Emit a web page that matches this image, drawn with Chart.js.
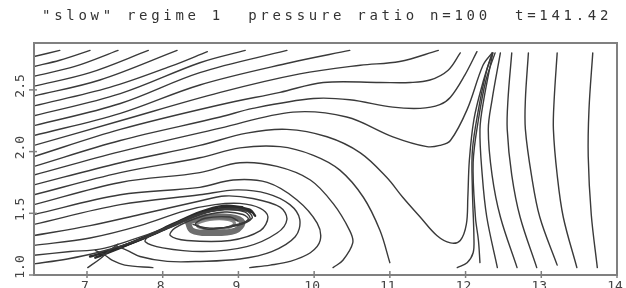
<!DOCTYPE html>
<html>
<head>
<meta charset="utf-8">
<script src="https://cdn.jsdelivr.net/npm/chart.js@4"></script>
<style>
  html, body { margin: 0; padding: 0; background: #fff; }
  canvas { display: block; }
</style>
</head>
<body>
<canvas id="flow" width="626" height="288"></canvas>
<script>
// title and axes
var titleText = '"slow" regime 1  pressure ratio n=100  t=141.42';
var xTicks = [7, 8, 9, 10, 11, 12, 13, 14];
var xTickLabels = ['7', '8', '9', '10', '11', '12', '13', '14'];
var yTicks = [1.0, 1.5, 2.0, 2.5];
var yTickLabels = ['1.0', '1.5', '2.0', '2.5'];

// streamlines, [x, y] pairs
// upper-left family, running out through the top
var upper0 = [[6.30,2.77],[6.64,2.82]];
var upper1 = [[6.30,2.69],[6.64,2.74],[7.04,2.82]];
var upper2 = [[6.30,2.61],[6.84,2.69],[7.41,2.82]];
var upper3 = [[6.30,2.53],[7.04,2.64],[7.81,2.82]];
var upper4 = [[6.30,2.45],[7.17,2.58],[8.19,2.82]];
var upper5 = [[6.30,2.37],[7.30,2.52],[8.10,2.69],[8.59,2.81]];
var upper6 = [[6.30,2.29],[7.44,2.47],[8.49,2.72],[9.09,2.82]];
var upper7 = [[6.30,2.21],[7.44,2.39],[8.49,2.64],[9.64,2.82]];
var upper8 = [[6.30,2.13],[7.44,2.31],[8.49,2.54],[9.68,2.72],[10.47,2.82]];
// lines that bend up into the cusp near x=12.3
var lineD = [[6.30,2.05],[7.44,2.25],[8.76,2.48],[9.81,2.63],[10.61,2.70],[11.13,2.73],[11.64,2.82]];
var lineE = [[6.30,1.96],[7.44,2.18],[8.76,2.38],[9.55,2.48],[10.12,2.56],[10.87,2.56],[11.27,2.56],[11.53,2.58],[11.77,2.66],[11.93,2.80]];
var lineF = [[6.30,1.88],[7.44,2.09],[8.76,2.28],[9.19,2.35],[9.99,2.43],[10.47,2.42],[11.04,2.36],[11.40,2.35],[11.66,2.38],[11.80,2.44],[11.99,2.62],[12.15,2.81]];
var lineG = [[6.30,1.81],[7.44,2.00],[8.76,2.19],[9.72,2.32],[10.43,2.28],[11.04,2.12],[11.49,2.04],[11.66,2.05],[11.80,2.09],[12.02,2.34],[12.23,2.70],[12.35,2.80]];
var lineU = [[6.30,1.73],[7.44,1.91],[8.49,2.05],[9.11,2.15],[9.64,2.18],[10.17,2.12],[10.61,1.99],[10.96,1.79],[11.17,1.63],[11.40,1.47],[11.62,1.32],[11.80,1.26],[11.93,1.28],[12.01,1.41],[12.03,1.63],[12.05,1.93],[12.11,2.26],[12.22,2.54],[12.35,2.80]];
// lines curling round the vortex and hitting the floor
var curl14 = [[6.30,1.65],[7.44,1.83],[8.49,1.95],[9.02,2.03],[9.55,2.04],[9.99,1.97],[10.34,1.85],[10.65,1.63],[10.87,1.36],[11.00,1.10]];
var curl15 = [[6.30,1.57],[7.44,1.75],[8.49,1.83],[9.02,1.91],[9.51,1.88],[9.95,1.77],[10.25,1.58],[10.47,1.36],[10.51,1.26],[10.38,1.12],[10.25,1.06]];
var curl16 = [[6.30,1.49],[7.44,1.65],[8.49,1.71],[8.93,1.77],[9.38,1.75],[9.77,1.61],[10.04,1.42],[10.08,1.28],[9.95,1.18],[9.68,1.11],[9.42,1.08],[9.15,1.06]];
var curl17 = [[6.30,1.41],[7.44,1.57],[8.49,1.65],[8.98,1.69],[9.38,1.66],[9.68,1.57],[9.81,1.45],[9.75,1.31],[9.44,1.19],[9.02,1.13],[8.49,1.11],[8.06,1.11],[7.70,1.15],[7.53,1.20],[7.37,1.24]];
// lines spiralling into the vortex core
var spiral18 = [[6.30,1.32],[7.04,1.40],[7.70,1.49],[8.49,1.60],[8.82,1.64],[9.19,1.62],[9.55,1.55],[9.64,1.45],[9.51,1.34],[9.11,1.23],[8.53,1.19],[8.00,1.22],[7.77,1.27],[7.83,1.32],[8.16,1.40],[8.49,1.49],[8.82,1.53],[9.09,1.52]];
var spiral19 = [[6.30,1.24],[7.04,1.30],[7.70,1.40],[8.29,1.52],[8.69,1.57],[9.02,1.58],[9.29,1.54],[9.39,1.47],[9.29,1.36],[8.89,1.28],[8.32,1.28],[8.10,1.32],[8.16,1.38],[8.49,1.47],[8.82,1.51],[9.06,1.49],[9.13,1.45],[8.96,1.40],[8.62,1.37]];
var spiral20 = [[6.30,1.16],[6.78,1.19],[7.17,1.21],[7.57,1.28],[8.03,1.38],[8.49,1.50],[8.86,1.54],[9.11,1.52],[9.18,1.46],[8.98,1.40],[8.62,1.38],[8.43,1.41],[8.56,1.46],[8.89,1.47],[8.99,1.44]];
var spiral21 = [[6.30,1.09],[6.74,1.13],[7.13,1.18],[7.57,1.26],[8.03,1.37],[8.47,1.49],[8.82,1.53],[9.09,1.51],[9.15,1.45],[8.92,1.40],[8.60,1.37],[8.40,1.41]];
// the dark band feeding the vortex
var bandA = [[7.11,1.14],[7.44,1.22],[7.83,1.32],[8.23,1.43],[8.56,1.51],[8.89,1.55],[9.15,1.53],[9.22,1.48]];
var bandB = [[7.17,1.16],[7.50,1.24],[7.90,1.34],[8.29,1.45],[8.62,1.52],[8.96,1.55]];
var bandC = [[7.04,1.15],[7.37,1.21],[7.77,1.31],[8.16,1.42],[8.49,1.51],[8.80,1.56],[9.05,1.55]];
var bandD = [[7.20,1.18],[7.55,1.25],[7.95,1.35],[8.33,1.46],[8.66,1.53],[8.98,1.54],[9.18,1.51]];
var saddleTail = [[7.11,1.20],[7.24,1.16],[7.33,1.12],[7.50,1.08],[7.87,1.06]];
var saddleCross = [[7.01,1.06],[7.17,1.13],[7.30,1.20],[7.41,1.25]];
var coreRing = [[8.33,1.43],[8.56,1.47],[8.89,1.47],[9.05,1.43],[8.96,1.36],[8.62,1.34],[8.39,1.36],[8.33,1.43]];
var coreInner = [[8.45,1.42],[8.62,1.45],[8.86,1.45],[8.95,1.42],[8.85,1.38],[8.62,1.37],[8.47,1.39],[8.45,1.42]];
// right-hand family, rising from the floor
var right1 = [[13.74,1.06],[13.66,1.49],[13.62,1.96],[13.63,2.34],[13.68,2.80]];
var right2 = [[13.47,1.06],[13.29,1.47],[13.21,1.81],[13.16,2.18],[13.17,2.42],[13.21,2.80]];
var right3 = [[13.21,1.08],[12.98,1.47],[12.87,1.81],[12.79,2.18],[12.79,2.42],[12.83,2.80]];
var right4 = [[12.94,1.06],[12.72,1.47],[12.61,1.81],[12.55,2.18],[12.56,2.42],[12.61,2.80]];
var right5 = [[12.68,1.06],[12.46,1.47],[12.35,1.81],[12.30,2.18],[12.35,2.42],[12.46,2.80]];
var right6 = [[12.42,1.06],[12.28,1.47],[12.22,1.81],[12.19,2.18],[12.24,2.42],[12.36,2.80]];
var right7 = [[12.19,1.10],[12.17,1.28],[12.13,1.47],[12.10,1.91],[12.17,2.26],[12.27,2.58],[12.39,2.80]];
var right8 = [[11.89,1.06],[12.02,1.10],[12.10,1.18],[12.11,1.31],[12.09,1.69],[12.09,2.01],[12.17,2.34],[12.28,2.66],[12.36,2.80]];

var streams = [upper0, upper1, upper2, upper3, upper4, upper5, upper6, upper7, upper8,
  lineD, lineE, lineF, lineG, lineU, curl14, curl15, curl16, curl17,
  spiral18, spiral19, spiral20, spiral21, saddleTail, saddleCross,
  right1, right2, right3, right4, right5, right6, right7, right8];
var bandLines = [bandA, bandB, bandC, bandD];

var ink = '#3a3a3a';
var frameColor = '#808080';
var monoFont = '"DejaVu Sans Mono", monospace';

function toPoints(s) {
  return s.map(function (p) { return { x: p[0], y: p[1] }; });
}

var datasets = streams.map(function (s) {
  return { data: toPoints(s), borderColor: ink, borderWidth: 1.4, tension: 0.35 };
});
bandLines.forEach(function (s) {
  datasets.push({ data: toPoints(s), borderColor: '#2a2a2a', borderWidth: 2.4, tension: 0.35 });
});
datasets.push({ data: toPoints(coreRing), borderColor: '#6e6e6e', borderWidth: 6, tension: 0.4 });
datasets.push({ data: toPoints(coreInner), borderColor: '#8a8a8a', borderWidth: 3, tension: 0.4 });

// frame, ticks, tick labels and title
var decor = {
  id: 'decor',
  afterDraw: function (chart) {
    var ctx = chart.ctx, a = chart.chartArea;
    var xs = chart.scales.x, ys = chart.scales.y;
    ctx.save();
    ctx.strokeStyle = frameColor;
    ctx.lineWidth = 2;
    ctx.strokeRect(a.left, a.top, a.right - a.left, a.bottom - a.top);

    ctx.lineWidth = 1.5;
    ctx.fillStyle = '#444';
    ctx.font = '13px ' + monoFont;
    ctx.textAlign = 'center';
    ctx.textBaseline = 'top';
    xTicks.forEach(function (v, i) {
      var px = xs.getPixelForValue(v);
      ctx.beginPath();
      ctx.moveTo(px, a.bottom - 4);
      ctx.lineTo(px, a.bottom + 3);
      ctx.stroke();
      ctx.fillText(xTickLabels[i], px - 2, a.bottom + 5);
    });
    ctx.textBaseline = 'middle';
    yTicks.forEach(function (v, i) {
      var py = ys.getPixelForValue(v);
      ctx.beginPath();
      ctx.moveTo(a.left - 5, py);
      ctx.lineTo(a.left + 3, py);
      ctx.stroke();
      ctx.save();
      ctx.translate(21, Math.min(py - 4, a.bottom - 8));
      ctx.rotate(-Math.PI / 2);
      ctx.fillText(yTickLabels[i], 0, 0);
      ctx.restore();
    });

    ctx.font = '14px ' + monoFont;
    ctx.fillStyle = '#333';
    ctx.textAlign = 'left';
    ctx.letterSpacing = '3.7px';
    ctx.fillText(titleText, 42, 16);
    ctx.restore();
  }
};

new Chart(document.getElementById('flow'), {
  type: 'scatter',
  data: { datasets: datasets },
  options: {
    responsive: false,
    animation: false,
    events: [],
    showLine: true,
    layout: { padding: { top: 43, right: 9, left: 0, bottom: 0 } },
    elements: { point: { radius: 0 }, line: { borderCapStyle: 'round', borderJoinStyle: 'round' } },
    plugins: { legend: { display: false }, tooltip: { enabled: false }, title: { display: false } },
    scales: {
      x: {
        type: 'linear', min: 6.3, max: 14,
        grid: { display: false }, border: { display: false },
        ticks: { display: false },
        afterFit: function (s) { s.height = 13; }
      },
      y: {
        type: 'linear', min: 1.0, max: 2.88,
        grid: { display: false }, border: { display: false },
        ticks: { display: false },
        afterFit: function (s) { s.width = 34; }
      }
    }
  },
  plugins: [decor]
});
</script>
</body>
</html>
